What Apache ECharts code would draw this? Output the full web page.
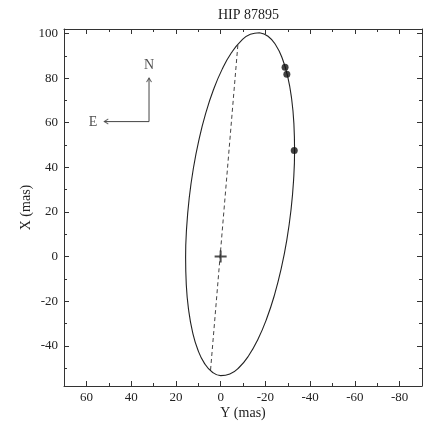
<!DOCTYPE html>
<html>
<head>
<meta charset="utf-8">
<script src="https://cdn.jsdelivr.net/npm/echarts@6/dist/echarts.min.js"></script>
<style>html,body{margin:0;padding:0;background:#fff;}#c{width:425px;height:423px;}</style>
</head>
<body>
<div id="c"></div>
<script>
// ---- data ----
const titleText = 'HIP 87895';
const xName = 'Y (mas)';
const yName = 'X (mas)';
// relative orbit (Y = horizontal, X = vertical), points along the ellipse
const orbitY = [-17.36,-13.28,-9.06,-4.82,-0.71,3.17,6.68,9.72,12.21,14.06,15.21,15.65,15.34,14.30,12.56,10.18,7.22,3.78,-0.04,-4.12,-8.34,-12.58,-16.69,-20.57,-24.08,-27.12,-29.61,-31.46,-32.61,-33.05,-32.74,-31.70,-29.96,-27.58,-24.62,-21.18,-17.36];
const orbitX = [100.35,99.63,96.60,91.34,84.02,74.87,64.15,52.20,39.37,26.06,12.68,-0.38,-12.71,-23.94,-33.73,-41.78,-47.84,-51.74,-53.35,-52.63,-49.60,-44.34,-37.02,-27.87,-17.15,-5.20,7.63,20.94,34.32,47.38,59.71,70.94,80.73,88.78,94.84,98.74,100.35];
// observed positions
const obsY = [-28.8,-29.6,-32.9];
const obsX = [84.9,81.7,47.5];
// dashed line through the primary
const nodeY = [4.5,-7.7];
const nodeX = [-50.8,94.8];
// primary star
const primY = [0];
const primX = [0];
// compass
const compassY = [52,32,32];
const compassX = [60.5,60.5,80];
const compassLabels = ['N','E'];
const compassLabelY = [32,57];
const compassLabelX = [85.6,60.1];
// axes
const xMin = -90, xMax = 70;
const yMin = -58, yMax = 102;
const xMajor = [60,40,20,0,-20,-40,-60,-80];
const xMinor = [50,30,10,-10,-30,-50,-70];
const yMajor = [-40,-20,0,20,40,60,80,100];
const yMinor = [-50,-30,-10,10,30,50,70,90];

const zip = (a,b) => a.map((v,i)=>[v,b[i]]);
const FONT = 'Liberation Serif';
const AX = '#333';
function axis(kind, pos, ticks, len, main, withLabels, name) {
  const a = {
    type:'value', position:pos, min: kind==='x'?xMin:yMin, max: kind==='x'?xMax:yMax,
    inverse: kind==='x', scale:true,
    axisLine:{show:main, onZero:false, lineStyle:{color:AX,width:1}},
    axisTick:{show:true, inside:true, length:len, customValues:ticks, lineStyle:{color:AX,width:1}},
    axisLabel:{show:withLabels, customValues:ticks, fontFamily:FONT, fontSize:13, color:'#222', margin: kind==='x'?5:6},
    splitLine:{show:false}
  };
  if (name) {
    a.name = name; a.nameLocation='middle';
    a.nameMoveOverlap = false;
    a.nameTextStyle = {fontFamily:FONT, fontSize:14, color:'#222'};
    a.nameGap = kind==='x'?20:31;
  }
  return a;
}
const chart = echarts.init(document.getElementById('c'), null, {renderer:'canvas'});
chart.setOption({
  animation:false,
  backgroundColor:'#fff',
  title:{text:titleText, left:243.5, top:3, textAlign:'center', textStyle:{fontFamily:FONT, fontSize:14, fontWeight:'normal', color:'#222'}},
  grid:{left:64, top:29, width:358, height:357, containLabel:false, outerBoundsMode:'none'},
  xAxis:[
    axis('x','bottom',xMajor,5,true,true,xName),
    axis('x','bottom',xMinor,3,false,false),
    axis('x','top',xMajor,5,true,false),
    axis('x','top',xMinor,3,false,false)
  ],
  yAxis:[
    axis('y','left',yMajor,5,true,true,yName),
    axis('y','left',yMinor,3,false,false),
    axis('y','right',yMajor,5,true,false),
    axis('y','right',yMinor,3,false,false)
  ],
  series:[
    {type:'line', data:zip(orbitY,orbitX), smooth:true, showSymbol:false, symbol:'none',
     lineStyle:{color:'#222', width:1.1}, z:3},
    {type:'line', data:zip(nodeY,nodeX), showSymbol:false, symbol:'none',
     lineStyle:{color:'#444', width:1, type:[4,3]}, z:2},
    {type:'scatter', data:zip(obsY,obsX), symbol:'circle', symbolSize:7, itemStyle:{color:'#111'}, z:5},
    {type:'scatter', data:zip(primY,primX), symbol:'path://M5,0H7V5H12V7H7V12H5V7H0V5H5Z', symbolSize:12, itemStyle:{color:'#222'}, z:5},
    {type:'line', data:zip(compassY,compassX), showSymbol:false, symbol:'none', lineStyle:{color:'#444', width:1}, z:4},
    {type:'scatter', data:[
        {value:[compassY[2],compassX[2]], symbolRotate:0, symbolOffset:[0,2]},
        {value:[compassY[0],compassX[0]], symbolRotate:90, symbolOffset:[2,0]}
      ],
     symbol:'path://M0,4L2.5,0L5,4', symbolSize:[5,4], itemStyle:{color:'none', borderColor:'#444', borderWidth:1}, z:4},
    {type:'scatter', data:compassLabels.map((t,i)=>({value:[compassLabelY[i],compassLabelX[i]], name:t})),
     symbolSize:1, itemStyle:{color:'rgba(0,0,0,0)'},
     label:{show:true, position:'inside', formatter:p=>p.name, fontFamily:FONT, fontSize:14, color:'#222'}, z:4}
  ]
});
</script>
</body>
</html>
